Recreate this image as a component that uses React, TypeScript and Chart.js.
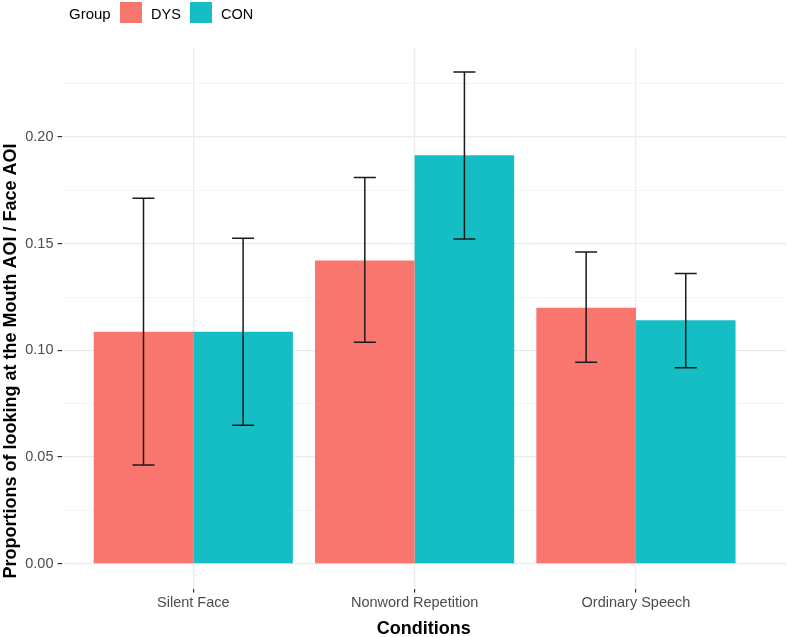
import React, { useEffect, useRef } from "react";
import { Chart, registerables } from "chart.js";

Chart.register(...registerables);

// conditions on the x axis
const conditions = ["Silent Face", "Nonword Repetition", "Ordinary Speech"];

// mean proportions per group
const dysMeans = [0.1088, 0.1422, 0.12];
const conMeans = [0.1088, 0.1915, 0.1141];

// error bar bounds
const dysLower = [0.0463, 0.1038, 0.0944];
const dysUpper = [0.1713, 0.1811, 0.1461];
const conLower = [0.0649, 0.1522, 0.0919];
const conUpper = [0.1526, 0.2305, 0.1361];

const yTitle = "Proportions of looking at the Mouth AOI / Face AOI";

const DYS_COLOR = "#F8766D";
const CON_COLOR = "#14BEC4";
const FONT = "'Liberation Sans', Arial, sans-serif";

const errorBars = {
  id: "errorBars",
  afterDatasetsDraw(chart: Chart) {
    const { ctx } = chart;
    const yScale = chart.scales.y;
    const bounds = [
      [dysLower, dysUpper],
      [conLower, conUpper],
    ];
    ctx.save();
    ctx.strokeStyle = "#1a1a1a";
    ctx.lineWidth = 1.5;
    bounds.forEach(([lo, hi], i) => {
      const meta = chart.getDatasetMeta(i);
      meta.data.forEach((bar: any, j: number) => {
        const x = bar.x;
        const yLo = yScale.getPixelForValue(lo[j]);
        const yHi = yScale.getPixelForValue(hi[j]);
        const half = 11;
        ctx.beginPath();
        ctx.moveTo(x, yLo);
        ctx.lineTo(x, yHi);
        ctx.moveTo(x - half, yLo);
        ctx.lineTo(x + half, yLo);
        ctx.moveTo(x - half, yHi);
        ctx.lineTo(x + half, yHi);
        ctx.stroke();
      });
    });
    ctx.restore();
  },
};

// y axis title, placed where the reference has it (a bit below the panel centre)
const yTitlePlugin = {
  id: "yTitle",
  afterDraw(chart: Chart) {
    const { ctx } = chart;
    ctx.save();
    ctx.translate(11, 361);
    ctx.rotate(-Math.PI / 2);
    ctx.font = `bold 18px ${FONT}`;
    ctx.fillStyle = "#000000";
    ctx.textAlign = "center";
    ctx.textBaseline = "middle";
    ctx.fillText(yTitle, 0, 0);
    ctx.restore();
  },
};

const isMajor = (v: number) => Math.round(v / 0.025) % 2 === 0;

const App: React.FC = () => {
  const canvasRef = useRef<HTMLCanvasElement>(null);
  const chartRef = useRef<Chart | null>(null);

  useEffect(() => {
    if (!canvasRef.current) return;
    if (chartRef.current) chartRef.current.destroy();

    chartRef.current = new Chart(canvasRef.current, {
      type: "bar",
      data: {
        datasets: [
          {
            label: "DYS",
            data: dysMeans.map((v, i) => ({ x: i + 1, y: v })),
            backgroundColor: DYS_COLOR,
            borderWidth: 0,
          },
          {
            label: "CON",
            data: conMeans.map((v, i) => ({ x: i + 1, y: v })),
            backgroundColor: CON_COLOR,
            borderWidth: 0,
          },
        ],
      },
      options: {
        responsive: false,
        animation: false,
        layout: { padding: { top: 47.5, right: 1, left: 0, bottom: 0 } },
        datasets: {
          bar: { categoryPercentage: 0.9, barPercentage: 1 },
        },
        plugins: {
          legend: { display: false },
          tooltip: { enabled: false },
        },
        scales: {
          x: {
            type: "linear",
            offset: false,
            min: 0.4045,
            max: 3.678,
            afterFit: (scale: any) => {
              scale.height = 48.5;
            },
            border: { display: false },
            grid: {
              offset: false,
              color: "#EBEBEB",
              lineWidth: 1.2,
              tickLength: 4,
              tickColor: "#333333",
            },
            ticks: {
              stepSize: 1,
              includeBounds: false,
              autoSkip: false,
              maxRotation: 0,
              padding: 2,
              color: "#4D4D4D",
              font: { family: FONT, size: 14.5 },
              callback: (v: any) => conditions[Math.round(Number(v)) - 1] ?? "",
            },
            title: {
              display: true,
              text: "Conditions",
              color: "#000000",
              font: { family: FONT, size: 18, weight: "bold" },
              padding: { top: 0, bottom: -2.5 },
            },
          },
          y: {
            min: -0.0116,
            max: 0.242,
            afterFit: (scale: any) => {
              scale.width = 61.5;
            },
            border: { display: false },
            grid: {
              color: (c: any) => (isMajor(c.tick.value) ? "#EBEBEB" : "#F3F3F3"),
              lineWidth: (c: any) => (isMajor(c.tick.value) ? 1.2 : 0.9),
              tickLength: 4,
              tickColor: (c: any) => (isMajor(c.tick.value) ? "#333333" : "rgba(0,0,0,0)"),
            },
            ticks: {
              stepSize: 0.025,
              includeBounds: false,
              autoSkip: false,
              padding: 4,
              color: "#4D4D4D",
              font: { family: FONT, size: 14.5 },
              callback: (v: any) => (isMajor(Number(v)) ? Number(v).toFixed(2) : ""),
            },
          },
        },
      },
      plugins: [errorBars, yTitlePlugin],
    } as any);

    return () => {
      if (chartRef.current) {
        chartRef.current.destroy();
        chartRef.current = null;
      }
    };
  }, []);

  const text: React.CSSProperties = {
    position: "absolute",
    top: 5,
    fontFamily: FONT,
    fontSize: 15,
    lineHeight: "18px",
    color: "#000",
  };
  const swatch: React.CSSProperties = {
    position: "absolute",
    top: 2,
    width: 22,
    height: 21,
  };

  return (
    <div
      style={{
        position: "fixed",
        left: 0,
        top: 0,
        width: 787,
        height: 637,
        background: "#ffffff",
      }}
    >
      <canvas ref={canvasRef} width={787} height={637} style={{ position: "absolute", left: 0, top: 0 }} />
      <span style={{ ...text, left: 69 }}>Group</span>
      <div style={{ ...swatch, left: 120, background: DYS_COLOR }} />
      <span style={{ ...text, left: 151, fontSize: 14.5 }}>DYS</span>
      <div style={{ ...swatch, left: 190, background: CON_COLOR }} />
      <span style={{ ...text, left: 221, fontSize: 14.5 }}>CON</span>
    </div>
  );
};

export default App;
